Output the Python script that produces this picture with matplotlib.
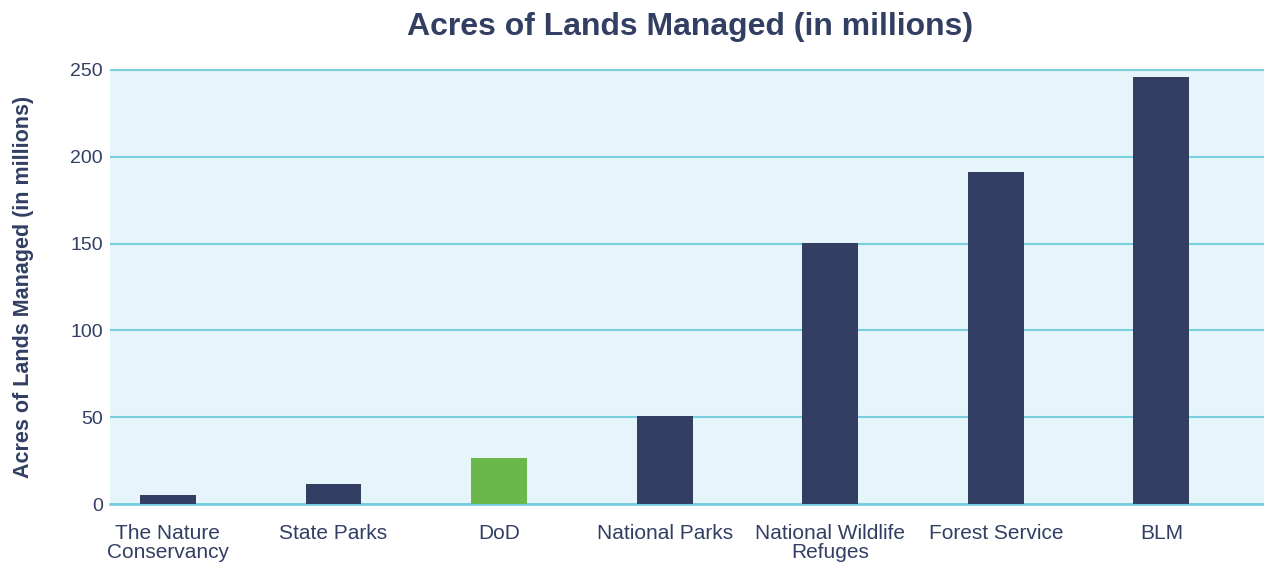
import numpy as np
import matplotlib
matplotlib.use("Agg")
import matplotlib.pyplot as plt

# ---
# Data

categories = ["The Nature\nConservancy", "State Parks", "DoD", "National Parks",
              "National Wildlife\nRefuges", "Forest Service", "BLM"]
acres = [5, 11.5, 26.5, 51, 150.5, 191, 246]
highlight = "DoD"
y_ticks = [0, 50, 100, 150, 200, 250]

# ---

NAVY  = "#323f63"
GREEN = "#6ab74c"
BG    = "#e6f5fa"
GRID  = "#7acfdf"

plt.rcParams["font.family"] = ["Liberation Sans", "DejaVu Sans"]

fig = plt.figure(figsize=(12.64, 5.62), dpi=100)
ax = fig.add_axes([0.087, 0.103, 0.913, 0.774])
ax.set_facecolor(BG)

x = np.arange(len(categories))
colors = [GREEN if c == highlight else NAVY for c in categories]
ax.bar(x, acres, width=0.338, color=colors, zorder=3)

ax.set_xlim(-0.35, 6.62)
ax.set_ylim(0, 250.5)
ax.set_yticks(y_ticks)
ax.set_xticks(x)
ax.set_xticklabels(categories, fontsize=15, color=NAVY, linespacing=1.02)
ax.tick_params(axis="y", labelsize=14, colors=NAVY, length=0, pad=5)
ax.tick_params(axis="x", length=0, pad=14, colors=NAVY)

ax.grid(axis="y", color=GRID, linewidth=1.5, zorder=1)
ax.axhline(0, color=GRID, linewidth=2, zorder=2, clip_on=False)
for s in ax.spines.values():
    s.set_visible(False)

ax.set_ylabel("Acres of Lands Managed (in millions)", fontsize=15.5, fontweight="bold",
              color=NAVY, labelpad=26)
fig.suptitle("Acres of Lands Managed (in millions)", fontsize=23, fontweight="bold",
             color=NAVY, x=0.546, y=0.978)

fig.savefig("out.png", dpi=100)
